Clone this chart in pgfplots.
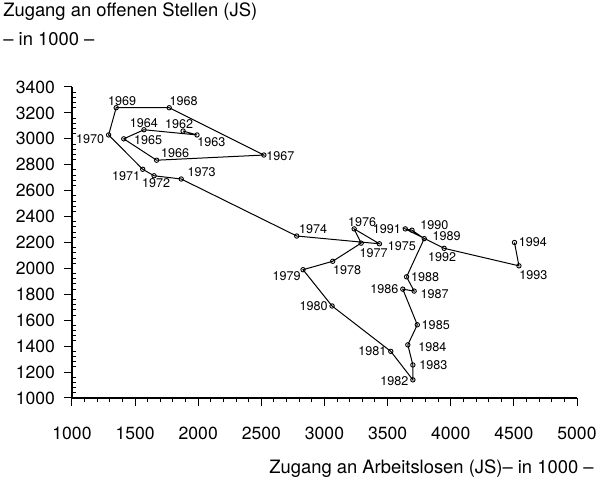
\documentclass[border=0pt]{standalone}
\usepackage{fontspec}
\setmainfont{TeX Gyre Heros}
\usepackage{pgfplots}
\pgfplotsset{compat=1.18}

\begin{document}
\begin{tikzpicture}
\useasboundingbox (-36pt,-41pt) rectangle (263.5pt,199pt);
\begin{axis}[
  at={(0,0)}, anchor=south west,
  scale only axis,
  width=252.5pt, height=155.5pt,
  xmin=1000, xmax=5000,
  ymin=1000, ymax=3400,
  xtick={1000,1500,...,5000},
  ytick={1000,1200,...,3400},
  minor tick num=4,
  axis lines*=left,
  axis line style={line width=0.6pt},
  tick align=outside,
  major tick length=4pt,
  minor tick length=2.2pt,
  tick style={black, line width=0.5pt},
  minor y tick style={xshift=2.2pt},
  /pgf/number format/1000 sep={},
  /pgf/number format/assume math mode=true,
  ticklabel style={font=\fontsize{8.8}{10}\selectfont},
  xticklabel style={yshift=-7pt},
  yticklabel style={xshift=-1pt},
  clip=false,
]
% year, x = Zugang an Arbeitslosen, y = Zugang an offenen Stellen (in 1000)
\addplot[black, line width=0.5pt,
  mark=o, mark size=1.1pt, mark options={solid, line width=0.45pt},
  point meta=explicit symbolic,
  visualization depends on={value \thisrow{anc} \as \anc},
  visualization depends on={\thisrow{dx} \as \dx},
  visualization depends on={\thisrow{dy} \as \dy},
  nodes near coords,
  nodes near coords style={font=\fontsize{6.3}{7.5}\selectfont, inner sep=1pt,
    anchor=\anc, xshift=\dx pt, yshift=\dy pt},
] table[x=x, y=y, meta=year] {
year x    y    anc        dx   dy
1962 1880 3060 south      -2   0
1963 1990 3030 {north west} -1  0
1964 1570 3070 south      0    0
1965 1410 3000 west       4    -0.5
1966 1670 2835 {south west} 1  0
1967 2520 2875 west       0    -0.5
1968 1770 3240 {south west} -1 0
1969 1350 3240 south      3    0
1970 1290 3030 {north east} -1 1.5
1971 1560 2765 {north east} 0  0
1972 1650 2715 north      1    0
1973 1865 2690 {south west} 2  0
1974 2780 2250 {south west} 0  0
1975 3435 2190 west       3    -1
1976 3235 2305 south      4    0
1977 3290 2195 {north west} -2 -1.5
1978 3065 2055 {north west} -1 -1
1979 2830 1990 {north east} 0  0.5
1980 3060 1710 east       -1   0
1981 3525 1360 east       -1   0
1982 3700 1140 east       -1   -0.5
1983 3700 1255 west       2    0
1984 3660 1410 west       4    -1
1985 3735 1565 west       1    0
1986 3620 1840 east       -1   0
1987 3710 1825 west       2    -1.5
1988 3650 1935 west       1    0
1989 3790 2230 west       3    1
1990 3693 2295 {south west} 3 -1
1991 3640 2305 east       -1   0
1992 3948 2155 north      -1   -1
1993 4540 2020 {north west} -1 -1
1994 4505 2200 west       1    0
};
\end{axis}
\node[anchor=west, font=\fontsize{9.2}{11}\selectfont, inner sep=0pt] at (-34.5pt,193pt) {Zugang an offenen Stellen (JS)};
\node[anchor=west, font=\fontsize{9.2}{11}\selectfont, inner sep=0pt] at (-34.5pt,179.5pt) {-- in 1000 --};
\node[anchor=east, font=\fontsize{9.2}{11}\selectfont, inner sep=0pt] at (261pt,-35.5pt) {Zugang an Arbeitslosen (JS)-- in 1000 --};
\end{tikzpicture}
\end{document}
